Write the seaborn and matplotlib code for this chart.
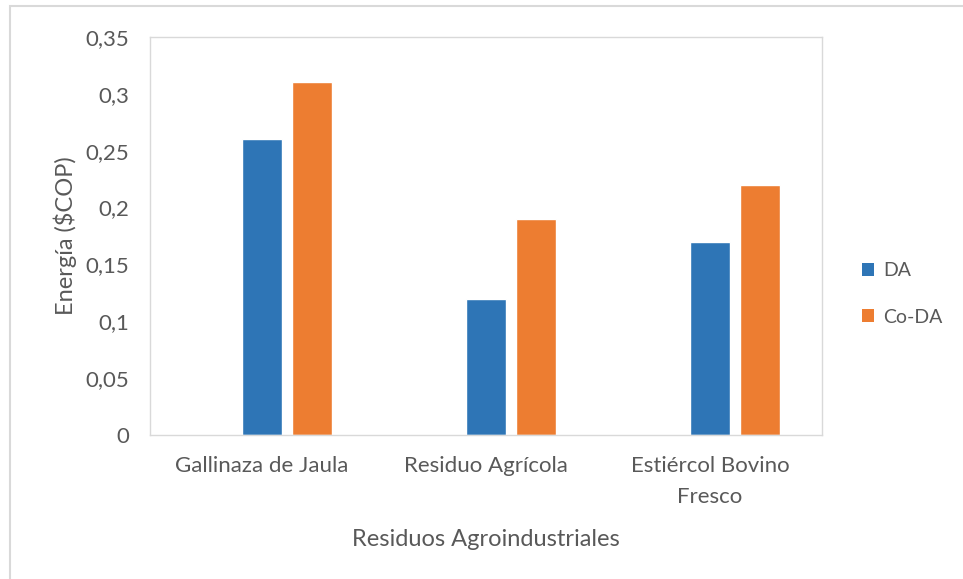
import matplotlib
matplotlib.use("Agg")
import matplotlib.pyplot as plt
from matplotlib.patches import Patch, Rectangle
from matplotlib.ticker import FuncFormatter, MultipleLocator
import seaborn as sns
import pandas as pd

# Data
categorias = ["Gallinaza de Jaula", "Residuo Agrícola", "Estiércol Bovino\nFresco"]
da = [0.26, 0.12, 0.17]
co_da = [0.31, 0.19, 0.22]
series = ["DA", "Co-DA"]
colores = {"": "#2E75B6", "DA": "#2E75B6", "Co-DA": "#ED7D31"}

df = pd.DataFrame({
    "Residuo": categorias * 2,
    "Serie": ["DA"] * 3 + ["Co-DA"] * 3,
    "Energia": da + co_da,
})

sns.set_theme(style="white")
plt.rcParams["font.family"] = ["Lato", "DejaVu Sans"]

fig = plt.figure(figsize=(9.63, 5.79), dpi=100)
ax = fig.add_axes([150 / 963, 1 - 435 / 579, (822 - 150) / 963, (435 - 37) / 579])

# an empty leading slot keeps the Excel-style layout of three series per group
sns.barplot(data=df, x="Residuo", y="Energia", hue="Serie",
            hue_order=["", "DA", "Co-DA"], palette=colores,
            width=0.67, gap=0.2, ax=ax, legend=False, saturation=1,
            errorbar=None)

ax.set_ylim(0, 0.35)
ax.set_xlim(-0.5, 2.5)
ax.yaxis.set_major_locator(MultipleLocator(0.05))


def coma(v, pos):
    s = f"{v:.2f}".rstrip("0").rstrip(".")
    return s.replace(".", ",")


ax.yaxis.set_major_formatter(FuncFormatter(coma))
gris = "#595959"
ax.tick_params(axis="both", length=0, labelsize=16, labelcolor=gris)
ax.tick_params(axis="y", pad=15)
ax.tick_params(axis="x", pad=15)
for lbl in ax.get_xticklabels():
    lbl.set_linespacing(1.7)
for spine in ax.spines.values():
    spine.set_color("#D9D9D9")
    spine.set_linewidth(1.0)
ax.grid(False)

ax.set_xlabel("Residuos Agroindustriales", fontsize=17, color=gris, labelpad=16)
ax.set_ylabel("Energía ($COP)", fontsize=17, color=gris, labelpad=6)

handles = [Patch(facecolor=colores[s], edgecolor="none", label=s) for s in series]
fig.legend(handles=handles, loc="center left",
           bbox_to_anchor=(844 / 963, 1 - 294 / 579), frameon=False,
           fontsize=14, labelcolor=gris, handlelength=0.65, handleheight=0.65,
           handletextpad=0.45, labelspacing=1.5)

# chart area border
fig.patches.append(Rectangle((10 / 963, -0.05), 1.0, 1 - 6 / 579 + 0.05,
                             transform=fig.transFigure, fill=False,
                             edgecolor="#D9D9D9", linewidth=1.5))

fig.savefig("out.png", dpi=100)
